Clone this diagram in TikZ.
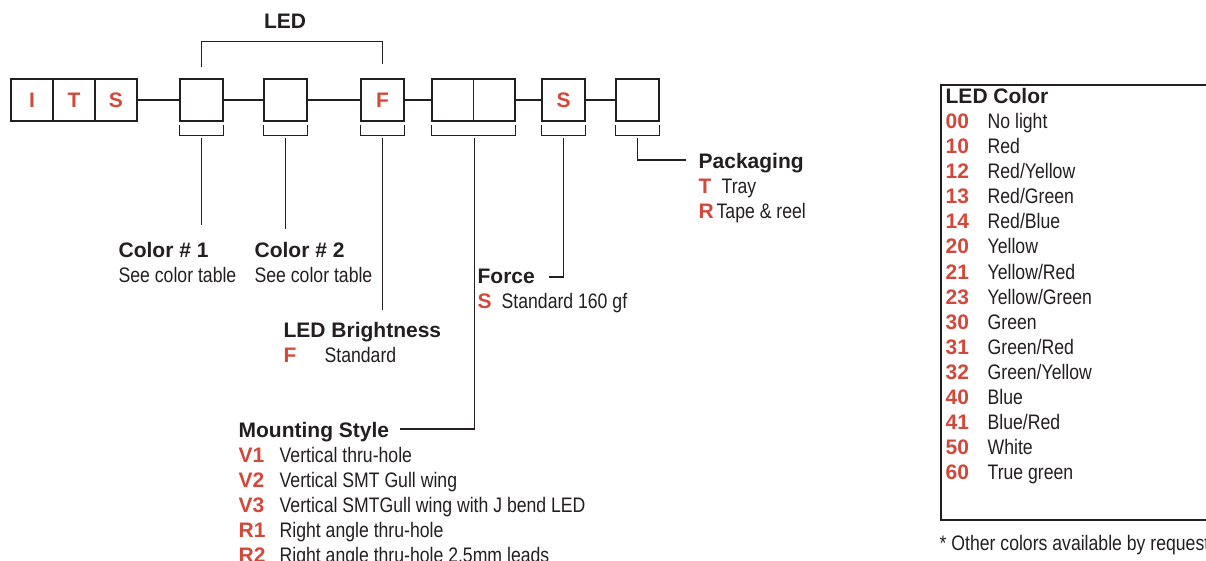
\documentclass[tikz,border=0pt]{standalone}
\usepackage{fontspec}
\setmainfont{Liberation Sans}
\newfontfamily\narrowfont[FakeStretch=0.84]{Liberation Sans}
\definecolor{itsred}{HTML}{D2483A}
\definecolor{ink}{HTML}{231F20}
\tikzset{
  cell/.style={draw=ink, minimum width=42pt, minimum height=42pt, inner sep=0pt,
    text=itsred, font=\fontsize{21}{25}\selectfont\bfseries},
  headtxt/.style={anchor=base west, inner sep=0pt, text=ink, font=\fontsize{21}{25}\selectfont\bfseries},
  codetxt/.style={anchor=base west, inner sep=0pt, text=itsred, font=\fontsize{21}{25}\selectfont\bfseries},
  desctxt/.style={anchor=base west, inner sep=0pt, text=ink, font=\fontsize{21}{25}\narrowfont},
}
\begin{document}
\begin{tikzpicture}[x=1pt,y=-1pt,line width=1.3pt,draw=ink]
  \useasboundingbox (0,0) rectangle (1206,561);
  % part number boxes
  \node[cell] (i) at (32,100) {I};
  \node[cell] (t) at (74,100) {T};
  \node[cell] (s) at (116,100) {S};
  \node[cell, minimum width=43pt] (c1) at (201.5,100) {};
  \node[cell, minimum width=43pt] (c2) at (285.5,100) {};
  \node[cell, minimum width=43pt] (f) at (382.5,100) {F};
  \node[cell, minimum width=41.5pt] (m1) at (452.75,100) {};
  \node[cell, minimum width=41.5pt] (m2) at (494.25,100) {};
  \node[cell, minimum width=43pt] (sf) at (563.5,100) {S};
  \node[cell, minimum width=43pt] (pk) at (637.5,100) {};
  \draw (s) -- (c1) (c1) -- (c2) (c2) -- (f) (f) -- (m1) (m2) -- (sf) (sf) -- (pk);
  % brackets under the boxes
  \foreach \b in {c1,c2,f,sf,pk}
    \draw ([yshift=-3pt]\b.south west) -- ([yshift=-14pt]\b.south west)
      -- ([yshift=-14pt]\b.south east) -- ([yshift=-3pt]\b.south east);
  \draw ([yshift=-3pt]m1.south west) -- ([yshift=-14pt]m1.south west)
    -- ([yshift=-14pt]m2.south east) -- ([yshift=-3pt]m2.south east);
  % LED bracket
  \draw ([yshift=11pt]c1.north) -- ([yshift=37pt]c1.north) -| ([yshift=14pt]f.north);
  \node[headtxt, anchor=base] (led) at (285,29) {LED};
  % leaders
  \coordinate (c1end) at (201.5,225);
  \coordinate (c2end) at (285.5,229);
  \coordinate (fend) at (382.5,310);
  \coordinate (mountend) at (400,429);
  \coordinate (forceend) at (549,277);
  \coordinate (packend) at (686,160);
  \draw ([yshift=-16pt]c1.south) -- (c1end);
  \draw ([yshift=-16pt]c2.south) -- (c2end);
  \draw ([yshift=-16pt]f.south) -- (fend);
  \draw ([yshift=-16pt]m1.south east) |- (mountend);
  \draw ([yshift=-16pt]sf.south) |- (forceend);
  \draw ([yshift=-16pt]pk.south) |- (packend);
  % labels
  \node[headtxt] (col1) at (118,257) {Color \# 1};
  \node[desctxt] (col1d) at (118,282) {See color table};
  \node[headtxt] (col2) at (254,257) {Color \# 2};
  \node[desctxt] (col2d) at (254,282) {See color table};
  \node[headtxt] (bright) at (283,337) {LED Brightness};
  \node[codetxt] (brightf) at (283,362) {F};
  \node[desctxt] (brightd) at (324,362) {Standard};
  \node[headtxt] (force) at (477,283) {Force};
  \node[codetxt] (forces) at (477,308) {S};
  \node[desctxt] (forced) at (501,308) {Standard 160 gf};
  \node[headtxt] (pack) at (698,169) {Packaging};
  \node[codetxt] (packt) at (698,194) {T};
  \node[desctxt] (packtd) at (721,194) {Tray};
  \node[codetxt] (packr) at (698,219) {R};
  \node[desctxt] (packrd) at (716,219) {Tape \& reel};
  \node[headtxt] (mount) at (238,437) {Mounting Style};
  \foreach \c/\t [count=\k from 0] in {V1/Vertical thru-hole, V2/Vertical SMT Gull wing,
      V3/Vertical SMTGull wing with J bend LED, R1/Right angle thru-hole,
      R2/Right angle thru-hole 2.5mm leads} {
    \node[codetxt] (mount\c) at (238,{462+25*\k}) {\c};
    \node[desctxt] (mountd\c) at (279,{462+25*\k}) {\t};
  }
  % color table
  \draw (941,85) rectangle (1215,520);
  \node[headtxt] (ledcolor) at (945,104) {LED Color};
  \foreach \c/\t [count=\k from 0] in {00/No light, 10/Red, 12/Red\slash Yellow,
      13/Red\slash Green, 14/Red\slash Blue, 20/Yellow, 21/Yellow\slash Red,
      23/Yellow\slash Green, 30/Green, 31/Green\slash Red, 32/Green\slash Yellow,
      40/Blue, 41/Blue\slash Red, 50/White, 60/True green} {
    \node[codetxt] (col\c) at (945,{129+25*\k}) {\c};
    \node[desctxt] (cold\c) at (987,{129+25*\k}) {\t};
  }
  \node[desctxt] (other) at (939,550) {* Other colors available by request};
\end{tikzpicture}
\end{document}
